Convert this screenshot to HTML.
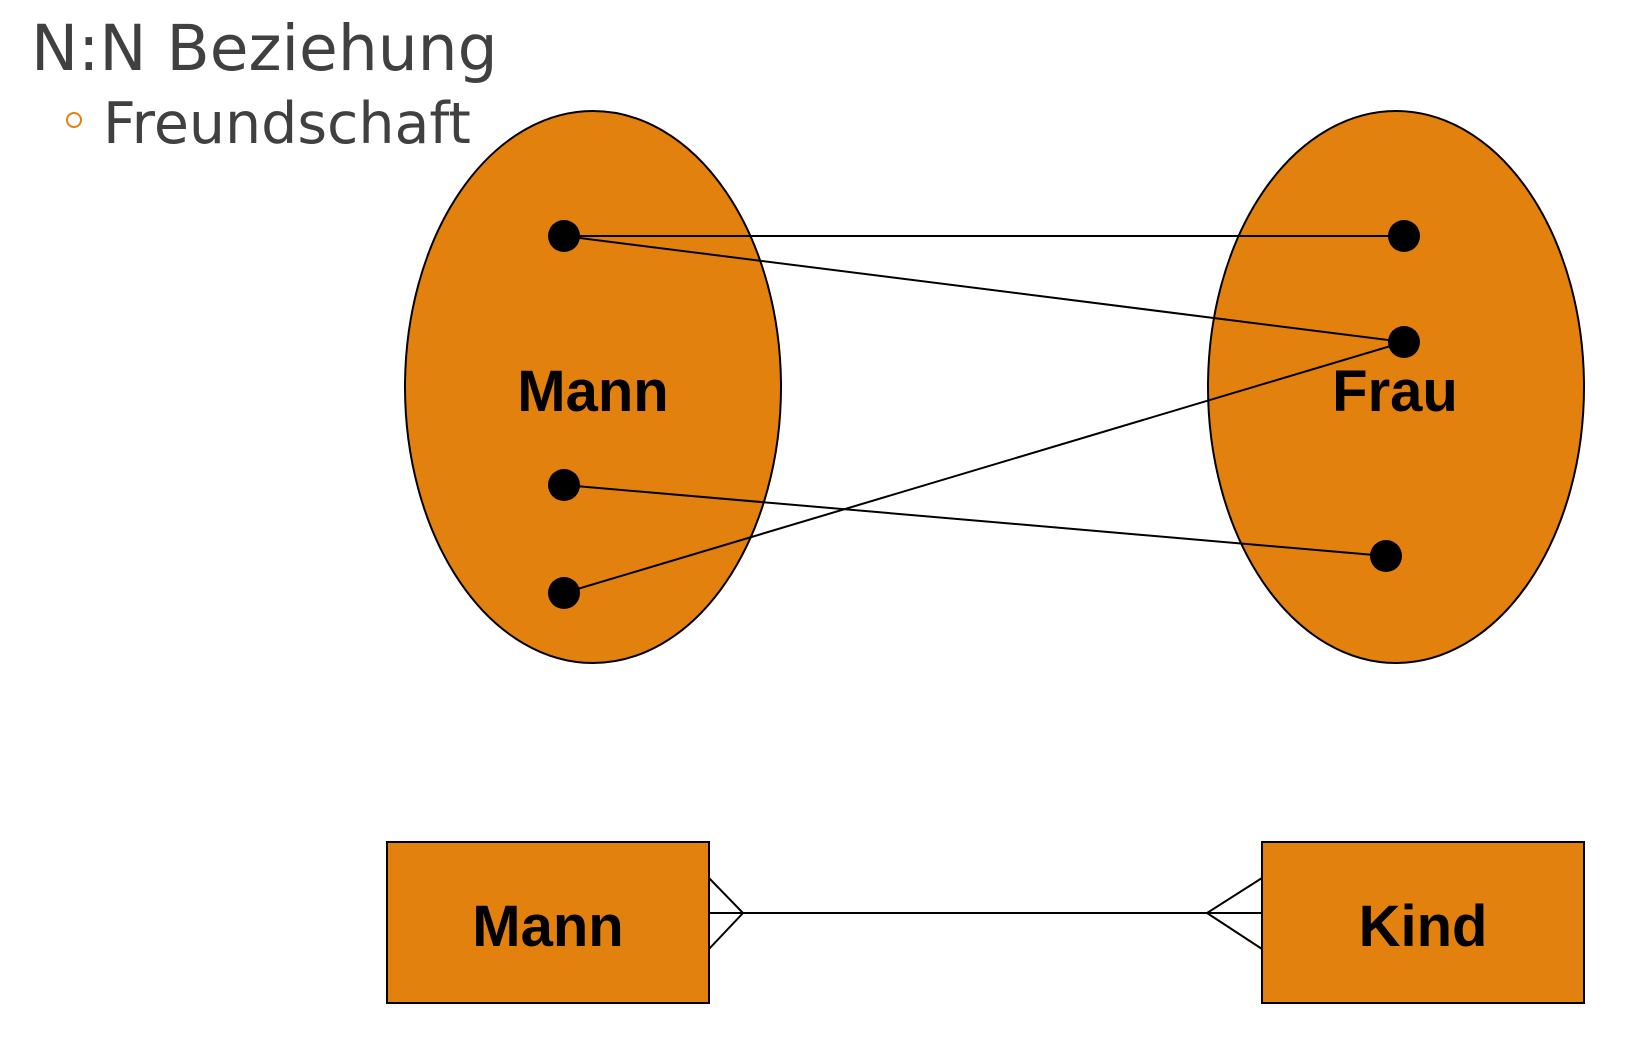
<!DOCTYPE html>
<html><head><meta charset="utf-8"><style>html,body{margin:0;padding:0;background:#fff}</style></head>
<body>
<svg width="1634" height="1036" viewBox="0 0 1634 1036" xmlns="http://www.w3.org/2000/svg">
<text x="31" y="70" font-family="DejaVu Sans, sans-serif" font-size="63" fill="#404040">N:N Beziehung</text>
<circle cx="74" cy="120" r="7" fill="none" stroke="#E3810F" stroke-width="2"/>
<text x="103" y="143" font-family="DejaVu Sans, sans-serif" font-size="57" fill="#404040">Freundschaft</text>
<ellipse cx="593" cy="387" rx="188" ry="276" fill="#E3810F" stroke="#000" stroke-width="2"/>
<ellipse cx="1396" cy="387" rx="188" ry="276" fill="#E3810F" stroke="#000" stroke-width="2"/>
<text x="593" y="411" text-anchor="middle" font-family="Liberation Sans, sans-serif" font-weight="bold" font-size="58">Mann</text>
<text x="1395" y="411" text-anchor="middle" font-family="Liberation Sans, sans-serif" font-weight="bold" font-size="58">Frau</text>
<g stroke="#000" stroke-width="2">
<line x1="564" y1="236" x2="1404" y2="236"/>
<line x1="564" y1="236" x2="1404" y2="342"/>
<line x1="564" y1="593" x2="1404" y2="342"/>
<line x1="564" y1="485" x2="1386" y2="556"/>
</g>
<g fill="#000">
<circle cx="564" cy="236" r="16"/><circle cx="1404" cy="236" r="16"/>
<circle cx="1404" cy="342" r="16"/><circle cx="564" cy="485" r="16"/>
<circle cx="564" cy="593" r="16"/><circle cx="1386" cy="556" r="16"/>
</g>
<rect x="387" y="842" width="322" height="161" fill="#E3810F" stroke="#000" stroke-width="2"/>
<rect x="1262" y="842" width="322" height="161" fill="#E3810F" stroke="#000" stroke-width="2"/>
<text x="548" y="946" text-anchor="middle" font-family="Liberation Sans, sans-serif" font-weight="bold" font-size="58">Mann</text>
<text x="1423" y="946" text-anchor="middle" font-family="Liberation Sans, sans-serif" font-weight="bold" font-size="58">Kind</text>
<g stroke="#000" stroke-width="2" fill="none">
<line x1="709" y1="913" x2="1262" y2="913"/>
<polyline points="709,878 743,913 709,949"/>
<polyline points="1262,878 1207,913 1262,949"/>
</g>
</svg>
</body></html>
